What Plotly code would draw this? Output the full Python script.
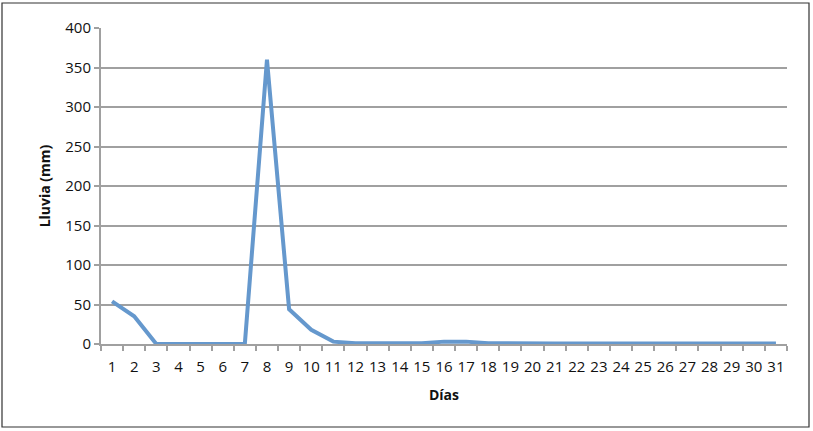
import plotly.graph_objects as go

dias = [str(d) for d in range(1, 32)]
lluvia = [54, 35, 0, 0, 0, 0, 0, 360, 44, 18, 3, 1, 1, 1, 1, 3, 3, 1,
          0.5, 0.5, 0.5, 0.5, 0.5, 0.5, 0.5, 0.5, 0.5, 0.5, 0.5, 0.5, 0.5]

W, H = 813, 431
L, R, T, B = 101, 26, 28, 87
pw, ph = W - L - R, H - T - B

fig = go.Figure()
fig.add_trace(go.Scatter(x=dias, y=lluvia, mode="lines",
                         line=dict(color="#6598cd", width=4)))

# outer frame around whole chart
fig.add_shape(type="rect", xref="paper", yref="paper",
              x0=(2 - L) / pw, x1=(809 - L) / pw,
              y0=(T + ph - 427) / ph, y1=(T + ph - 3) / ph,
              line=dict(color="#333333", width=1.2))

fig.update_layout(
    width=W, height=H,
    margin=dict(l=L, r=R, t=T, b=B, autoexpand=False),
    plot_bgcolor="white", paper_bgcolor="white",
    showlegend=False,
    font=dict(family="Open Sans, sans-serif", size=14, color="#111111"),
)
fig.update_xaxes(
    type="category", tickson="boundaries", ticks="outside", ticklen=5,
    range=[-0.5, len(dias) - 0.5], tickfont=dict(size=15),
    tickcolor="#a0a0a0", tickwidth=2, showgrid=False, tickangle=0,
    ticklabelstandoff=8,
    showline=True, linecolor="#a0a0a0", linewidth=2, automargin=False,
    title=dict(text="<b>Días</b>", font=dict(size=14), standoff=15),
)
fig.update_yaxes(
    range=[0, 400], dtick=50, ticks="outside", ticklen=5,
    tickcolor="#a0a0a0", tickwidth=2, automargin=False, tickfont=dict(size=15),
    showgrid=True, gridcolor="#a0a0a0", gridwidth=2,
    showline=True, linecolor="#a0a0a0", linewidth=2, zeroline=False,
    title=dict(text="<b>Lluvia (mm)</b>", font=dict(size=14), standoff=11),
)

fig.write_html("out.html", config={"displayModeBar": False},
               post_script="document.body.style.margin='0';")
